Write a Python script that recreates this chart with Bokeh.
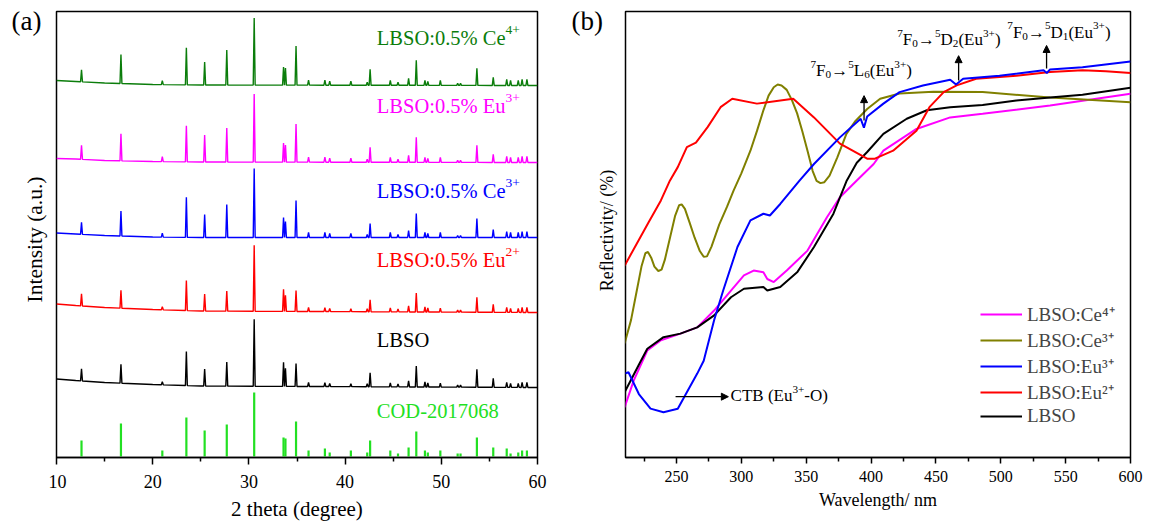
import math
import numpy as np
from bokeh.plotting import figure
from bokeh.layouts import row
from bokeh.models import Label, Arrow, NormalHead, FixedTicker, Legend, LegendItem
from bokeh.embed import file_html
from bokeh.resources import INLINE

FONT = "Liberation Serif"

# ---------------- Panel (a): XRD ----------------
peak_pos = [12.6, 16.7, 21.0, 23.5, 25.4, 27.7, 30.55, 33.6, 33.8, 34.9, 36.2, 37.9, 38.4,
            40.6, 42.3, 42.6, 44.7, 45.5, 46.6, 47.4, 48.3, 48.6, 49.9, 51.7, 52.0, 53.7,
            55.4, 56.8, 57.2, 58.0, 58.4, 58.9]
cod_int = [16, 33, 6, 39, 26, 32, 64, 19, 18, 35, 6, 8, 4, 6, 4, 16, 6, 3, 9, 25, 6, 4,
           6, 3, 3, 19, 9, 8, 3, 4, 6, 6]
int_ce4 = [12, 29, 4, 37, 23, 35, 67, 18, 17, 39, 5, 5, 4, 4, 3, 16, 5, 3, 7, 25, 5, 4,
           5, 2, 2, 17, 8, 6, 5, 5, 6, 6]
int_eu3 = [14, 27, 5, 36, 27, 34, 68, 19, 17, 38, 5, 5, 4, 4, 3, 15, 5, 3, 7, 25, 5, 4,
           5, 2, 2, 17, 8, 6, 5, 5, 6, 6]
int_ce3 = [12, 25, 4, 40, 23, 33, 69, 20, 16, 37, 5, 5, 4, 4, 3, 14, 5, 3, 7, 24, 5, 4,
           5, 2, 2, 19, 8, 6, 5, 5, 6, 6]
int_eu2 = [12, 18, 3, 30, 17, 20, 66, 22, 16, 21, 4, 4, 3, 3, 3, 12, 4, 3, 6, 19, 5, 4,
           4, 2, 2, 15, 8, 5, 4, 4, 5, 5]
int_lbso = [12, 19, 3, 34, 17, 24, 67, 24, 18, 23, 4, 4, 3, 3, 3, 14, 4, 3, 6, 21, 5, 4,
            4, 2, 2, 18, 9, 5, 4, 4, 5, 5]
bg_x = [10, 12, 15, 20, 25, 60]
bg_ce4 = [5, 4, 2.5, 1, 0.5, 0]
bg_eu3 = [4, 3.5, 2, 1, 0.5, 0]
bg_ce3 = [4.5, 3.5, 2, 0.5, 0, 0]
bg_eu2 = [8.5, 7, 5, 3, 1.5, 0]
bg_lbso = [8.5, 7, 5, 3, 1.5, 0]
offsets = {"ce4": 371, "eu3": 294, "ce3": 219, "eu2": 144, "lbso": 69}

# ---------------- Panel (b): reflectance ----------------
wl_ce4 = [210, 217, 227.5, 238, 253, 266, 279, 292, 302, 309.5, 317, 320, 325, 335, 351,
          366, 376, 389, 402, 409.5, 435, 461, 486, 538, 600]
R_ce4 = [11.3, 17.3, 24.1, 26.4, 27.9, 29.3, 33.1, 37.6, 41.0, 42.1, 41.7, 40.2, 39.5, 42.1,
         46.6, 54.1, 58.6, 62.4, 66.1, 69.1, 74.0, 76.6, 77.4, 79.3, 81.9]
wl_ce3 = [210, 215, 219, 223, 226, 228, 230.5, 233, 236, 238.5, 241, 245, 249, 252, 254,
          256.5, 260, 264, 268, 271, 273.5, 277, 283, 289, 294, 300, 307, 312, 317, 321,
          325, 328, 331, 335, 339, 343, 347, 351, 355, 358, 361, 364, 368, 374, 381, 388,
          397, 407, 422, 448, 486, 538, 600]
R_ce3 = [25.7, 31.0, 37.0, 43.0, 46.0, 46.3, 45.0, 43.0, 42.0, 42.3, 44.5, 49.5, 54.5, 56.8,
         57.0, 56.0, 53.0, 49.5, 46.5, 45.2, 45.3, 47.5, 52.5, 56.5, 60.1, 64.0, 69.1, 73.5,
         78.2, 81.5, 83.4, 84.0, 83.8, 82.8, 80.5, 77.5, 73.5, 69.1, 64.5, 62.3, 61.8, 62.0,
         63.5, 67.6, 72.9, 75.8, 78.5, 80.8, 82.0, 82.4, 82.3, 81.1, 80.0]
wl_eu3 = [210, 213, 221, 230, 240, 251, 258, 266, 271, 279, 286, 297, 307, 317, 322, 330,
          345, 356, 376, 389, 392, 394.5, 397, 409.5, 422, 440, 461, 465.5, 471, 499, 533,
          535.5, 538, 563, 600]
R_eu3 = [18.9, 19.2, 14.3, 11.0, 10.2, 11.0, 14.7, 18.9, 21.8, 30.9, 37.6, 47.4, 53.4, 54.9,
         54.5, 57.1, 62.4, 66.1, 72.1, 75.5, 76.3, 74.3, 76.8, 79.7, 82.3, 83.8, 85.1, 84.0,
         85.3, 86.0, 87.2, 86.6, 87.4, 87.9, 89.2]
wl_eu2 = [210, 228, 238, 245, 251, 258, 265, 274, 284, 293, 312, 340, 356, 376, 397, 403,
          417, 435, 445, 456, 466, 481, 512, 538, 563, 581, 600]
R_eu2 = [43.2, 52.7, 57.9, 62.4, 65.4, 69.9, 70.9, 74.4, 78.9, 80.8, 79.7, 80.8, 76.6, 70.7,
         67.3, 67.3, 69.1, 73.6, 78.9, 82.3, 83.8, 85.3, 86.0, 86.8, 87.2, 87.0, 86.6]
wl_lbso = [210, 214.6, 221, 227.5, 240, 253, 266, 279, 292, 302, 317, 320, 330, 343, 356,
           371, 381, 389, 397, 409.5, 427.5, 443, 461, 486, 512, 538, 563, 600]
R_lbso = [14.7, 17.3, 20.9, 24.5, 27.1, 27.9, 29.3, 32.0, 36.1, 38.0, 38.4, 37.6, 38.4, 41.7,
          47.4, 54.9, 62.2, 66.4, 68.8, 72.9, 76.3, 78.2, 78.9, 79.4, 80.4, 81.1, 81.7, 83.3]

# ---------------- helpers ----------------
W = {'L': .611, 'B': .667, 'S': .556, 'O': .722, ':': .278, '0': .5, '.': .25, '5': .5,
     '%': .833, ' ': .25, 'C': .667, 'e': .444, 'E': .611, 'u': .5, 'D': .722, '-': .333,
     '1': .5, '2': .5, '3': .5, '4': .5, '6': .5, '7': .5, '8': .5, '+': .564, '(': .333,
     ')': .333, 'F': .556, 'T': .611, '\u2192': 1.0}
BASE_FIX = 0.38   # empirical lift of the rendered alphabetic baseline (fraction of font size)


def tw(s, fs):
    return sum(W.get(c, 0.5) for c in s) * fs


def rich(p, x, y, pieces, fs, color, ss=0.66, up=0.38, down=0.22):
    off = 0.0
    lift = BASE_FIX * fs
    for txt, kind in pieces:
        if kind == "n":
            size, dy = fs, 0
        elif kind == "sup":
            size, dy = fs * ss, fs * up
        else:
            size, dy = fs * ss, -fs * down
        p.add_layout(Label(x=x, y=y, x_offset=off, y_offset=dy + lift, text=txt,
                           text_font=FONT, text_font_size=f"{size:.1f}px", text_color=color,
                           text_baseline="alphabetic", text_align="left"))
        off += tw(txt, size)


def pattern(pos, heights, bgy, offset, w=0.1):
    def base(x):
        return float(np.interp(x, bg_x, bgy)) + offset
    xs = [float(v) for v in bg_x]
    ys = [base(v) for v in bg_x]
    for pk, h in zip(pos, heights):
        xs += [pk - w, pk, pk + w]
        ys += [base(pk - w), base(pk) + h, base(pk + w)]
    order = np.argsort(xs, kind="stable")
    return np.array(xs)[order], np.array(ys)[order]


def style(p):
    p.toolbar_location = None
    p.outline_line_color = "black"
    p.outline_line_width = 1.5
    p.xgrid.visible = False
    p.ygrid.visible = False
    p.background_fill_color = "white"
    p.border_fill_color = "white"
    ax = p.xaxis[0]
    ax.axis_line_width = 1.5
    ax.major_tick_line_width = 1.5
    ax.minor_tick_line_width = 1.5
    ax.major_tick_in = 0
    ax.minor_tick_in = 0
    ax.axis_label_text_font = FONT
    ax.axis_label_text_font_style = "normal"
    ax.major_label_text_font = FONT
    ax.axis_label_text_color = "black"
    ax.major_label_text_color = "black"


TOP = 11      # common frame top (page px)
FH = 446      # common frame height (page px)


def side_panel(width):
    # frame spans page y TOP..TOP+FH; data y = -page y
    s = figure(frame_width=width, frame_height=FH, x_range=(0, width),
               y_range=(-(TOP + FH), -TOP), x_axis_location=None, y_axis_location=None,
               min_border_left=0, min_border_right=0, min_border_top=TOP,
               min_border_bottom=0, title=None, output_backend="svg", toolbar_location=None)
    s.outline_line_color = None
    s.background_fill_color = "white"
    s.border_fill_color = "white"
    s.grid.visible = False
    return s


# ---------------- left strip: (a) + y label ----------------
sa = side_panel(48)
sa.add_layout(Label(x=11, y=-20, text="(a)", text_font=FONT, text_font_size="27px",
                    text_baseline="alphabetic", text_align="left", text_color="black"))
sa.add_layout(Label(x=34, y=-239, text="Intensity (a.u.)", text_font=FONT,
                    text_font_size="21.5px", text_baseline="middle", text_align="center",
                    angle=math.pi / 2, text_color="black"))

# ---------------- figure (a) ----------------
p1 = figure(frame_width=481, frame_height=FH, x_range=(10, 60), y_range=(-1, 445),
            y_axis_location=None, output_backend="svg", toolbar_location=None, title=None,
            min_border_left=8, min_border_right=23, min_border_top=TOP, min_border_bottom=10)
style(p1)
p1.xaxis.ticker = FixedTicker(ticks=[10, 20, 30, 40, 50, 60], minor_ticks=[15, 25, 35, 45, 55])
p1.xaxis.major_tick_out = 7
p1.xaxis.minor_tick_out = 4
p1.xaxis.major_label_standoff = 10
p1.xaxis.major_label_text_font_size = "18px"
p1.xaxis.axis_label = "2 theta (degree)"
p1.xaxis.axis_label_text_font_size = "21px"
p1.xaxis.axis_label_standoff = 6

p1.segment(x0=peak_pos, y0=[0] * len(peak_pos), x1=peak_pos, y1=cod_int,
           line_color="#22E022", line_width=2.2)
traces = [("ce4", int_ce4, bg_ce4, "#0B7D0B"), ("eu3", int_eu3, bg_eu3, "#FF00FF"),
          ("ce3", int_ce3, bg_ce3, "#0000FF"), ("eu2", int_eu2, bg_eu2, "#FF0000"),
          ("lbso", int_lbso, bg_lbso, "#000000")]
for key, ints, bg, col in traces:
    xs, ys = pattern(peak_pos, ints, bg, offsets[key])
    p1.line(xs, ys, line_color=col, line_width=1.4)

FA = 20.5
lx = 43.3
rich(p1, lx, 411, [("LBSO:0.5% Ce", "n"), ("4+", "sup")], FA, "#0B7D0B")
rich(p1, lx, 343, [("LBSO:0.5% Eu", "n"), ("3+", "sup")], FA, "#FF00FF")
rich(p1, lx, 258, [("LBSO:0.5% Ce", "n"), ("3+", "sup")], FA, "#0000FF")
rich(p1, lx, 189, [("LBSO:0.5% Eu", "n"), ("2+", "sup")], FA, "#FF0000")
rich(p1, lx, 109, [("LBSO", "n")], FA, "#000000")
rich(p1, lx, 38, [("COD-2017068", "n")], FA, "#22E022")

# ---------------- middle strip: (b) + y label ----------------
sb = side_panel(60)
sb.add_layout(Label(x=11, y=-20, text="(b)", text_font=FONT, text_font_size="27px",
                    text_baseline="alphabetic", text_align="left", text_color="black"))
sb.add_layout(Label(x=46, y=-230, text="Reflectivity/ (%)", text_font=FONT,
                    text_font_size="18px", text_baseline="middle", text_align="center",
                    angle=math.pi / 2, text_color="black"))

# ---------------- figure (b) ----------------
p2 = figure(frame_width=505, frame_height=FH, x_range=(210.7, 600), y_range=(0, 100 * FH / 444),
            y_axis_location=None, output_backend="svg", toolbar_location=None, title=None,
            min_border_left=5, min_border_right=16, min_border_top=TOP, min_border_bottom=10)
style(p2)
p2.xaxis.ticker = FixedTicker(ticks=[250, 300, 350, 400, 450, 500, 550, 600],
                              minor_ticks=[225, 275, 325, 375, 425, 475, 525, 575])
p2.xaxis.major_tick_out = 6
p2.xaxis.minor_tick_out = 4
p2.xaxis.major_label_standoff = 7
p2.xaxis.major_label_text_font_size = "16px"
p2.xaxis.axis_label = "Wavelength/ nm"
p2.xaxis.axis_label_text_font_size = "18px"
p2.xaxis.axis_label_standoff = 5

r_ce4 = p2.line(wl_ce4, R_ce4, line_color="#FF00FF", line_width=2)
r_ce3 = p2.line(wl_ce3, R_ce3, line_color="#808000", line_width=2)
r_lbso = p2.line(wl_lbso, R_lbso, line_color="#000000", line_width=2)
r_eu2 = p2.line(wl_eu2, R_eu2, line_color="#FF0000", line_width=2)
r_eu3 = p2.line(wl_eu3, R_eu3, line_color="#0000FF", line_width=2)

legend = Legend(items=[LegendItem(label="LBSO:Ce\u2074\u207a", renderers=[r_ce4]),
                       LegendItem(label="LBSO:Ce\u00b3\u207a", renderers=[r_ce3]),
                       LegendItem(label="LBSO:Eu\u00b3\u207a", renderers=[r_eu3]),
                       LegendItem(label="LBSO:Eu\u00b2\u207a", renderers=[r_eu2]),
                       LegendItem(label="LBSO", renderers=[r_lbso])],
                location=(355, 30), orientation="vertical", glyph_width=42, glyph_height=20,
                label_height=20, spacing=0, padding=0, margin=0, label_standoff=5,
                border_line_alpha=0, background_fill_alpha=0, label_text_font=FONT,
                label_text_font_size="19px", label_text_baseline="middle")
p2.add_layout(legend)

FB = 17
rich(p2, 353.3, 85.6, [("7", "sup"), ("F", "n"), ("0", "sub"), ("\u2192", "n"), ("5", "sup"),
                       ("L", "n"), ("6", "sub"), ("(Eu", "n"), ("3+", "sup"), (")", "n")], FB, "black")
rich(p2, 420.2, 92.6, [("7", "sup"), ("F", "n"), ("0", "sub"), ("\u2192", "n"), ("5", "sup"),
                       ("D", "n"), ("2", "sub"), ("(Eu", "n"), ("3+", "sup"), (")", "n")], FB, "black")
rich(p2, 505.0, 94.3, [("7", "sup"), ("F", "n"), ("0", "sub"), ("\u2192", "n"), ("5", "sup"),
                       ("D", "n"), ("1", "sub"), ("(Eu", "n"), ("3+", "sup"), (")", "n")], FB, "black")
rich(p2, 291.7, 12.5, [("CTB (Eu", "n"), ("3+", "sup"), ("-O)", "n")], FB, "black")

for xs_, y0, y1 in [(394.6, 75.9, 81.5), (467.5, 84.9, 90.5), (535.3, 87.6, 92.8)]:
    p2.add_layout(Arrow(end=NormalHead(size=7, fill_color="black", line_color="black"),
                        x_start=xs_, y_start=y0, x_end=xs_, y_end=y1,
                        line_color="black", line_width=1.3))
p2.add_layout(Arrow(end=NormalHead(size=7, fill_color="black", line_color="black"),
                    x_start=249.3, y_start=13.7, x_end=290.0, y_end=13.7,
                    line_color="black", line_width=1.3))

layout = row(sa, p1, sb, p2)
open("out.html", "w").write(file_html(layout, INLINE))
